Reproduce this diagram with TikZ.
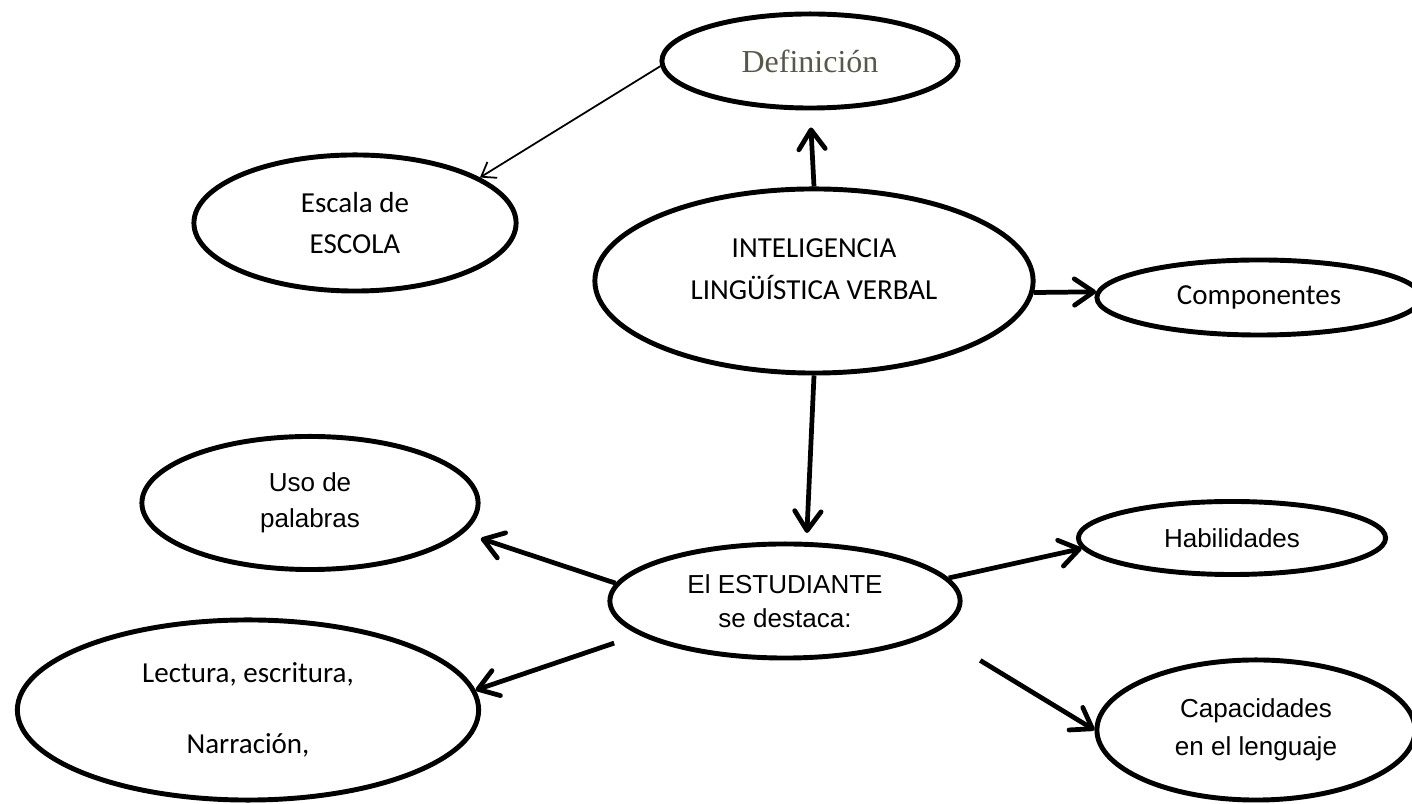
\documentclass[tikz,border=0pt]{standalone}
\usepackage{fontspec}
\setmainfont{Liberation Serif}
\newfontfamily\calibri{Carlito}
\newfontfamily\arial{Liberation Sans}
\usepackage{tikz}
\usetikzlibrary{arrows.meta,shapes.geometric}
\definecolor{olivegray}{RGB}{88,88,72}

\begin{document}
\begin{tikzpicture}[%
    x=0.01cm, y=-0.01cm,
    >={Straight Barb[length=5.5pt,width=7.5pt,round]},
    idea/.style={ellipse, draw, line width=1.4pt, inner sep=0pt, align=center},
    cal/.style={font=\calibri\fontsize{8.25}{11.9}\selectfont},
    ari/.style={font=\arial\fontsize{7.4}{10.2}\selectfont},
    link/.style={->, line width=1.35pt},
    thin link/.style={->, line width=0.5pt, >={Straight Barb[length=3.7pt,width=5.3pt]}}
    ]
    \clip (0,0) rectangle (1412,804);

    \node[idea, minimum width=2.96cm, minimum height=0.94cm, text=olivegray,
          font=\fontsize{9.1}{11}\selectfont] (def) at (810,61) {Definición};
    \node[idea, cal, minimum width=3.22cm, minimum height=1.36cm] (esc) at (355,223) {Escala de\\ESCOLA};
    \node[idea, cal, minimum width=4.38cm, minimum height=1.84cm, text depth=7pt] (int) at (814,281) {INTELIGENCIA\\LINGÜÍSTICA VERBAL};
    \node[idea, cal, minimum width=3.24cm, minimum height=0.75cm] (comp) at (1259,297.5) {Componentes};
    \node[idea, ari, minimum width=3.36cm, minimum height=1.33cm] (uso) at (310,503) {Uso de\\palabras};
    \node[idea, ari, minimum width=3.50cm, minimum height=1.14cm] (est) at (785,601) {El ESTUDIANTE\\[-0.5pt]se destaca:};
    \node[idea, ari, minimum width=3.07cm, minimum height=0.73cm] (hab) at (1232,538) {Habilidades};
    \node[idea, cal, minimum width=4.61cm, minimum height=1.80cm] (lec) at (248,710) {Lectura, escritura,\\[8.3pt]Narración,};
    \node[idea, ari, minimum width=3.18cm, minimum height=1.40cm] (cap) at (1256,730) {Capacidades\\[0.6pt]en el lenguaje};

    \draw[thin link] (def.182) -- (esc.20);
    \draw[link, shorten >=1.7mm] (int.north) -- (def.south);
    \draw[link] (int.-3) -- (comp.178);
    \draw[link, shorten >=0.9mm] (int.south) -- (est.70);
    \draw[link, shorten >=1.8mm] (est.174) -- (uso.-11);
    \draw[link] (est.8) -- (hab.184);
    \draw[link, shorten <=2.6mm] (est.193) -- (lec.5);
    \draw[link, shorten <=5.3mm] (est.-12) -- (cap.west);
\end{tikzpicture}
\end{document}
